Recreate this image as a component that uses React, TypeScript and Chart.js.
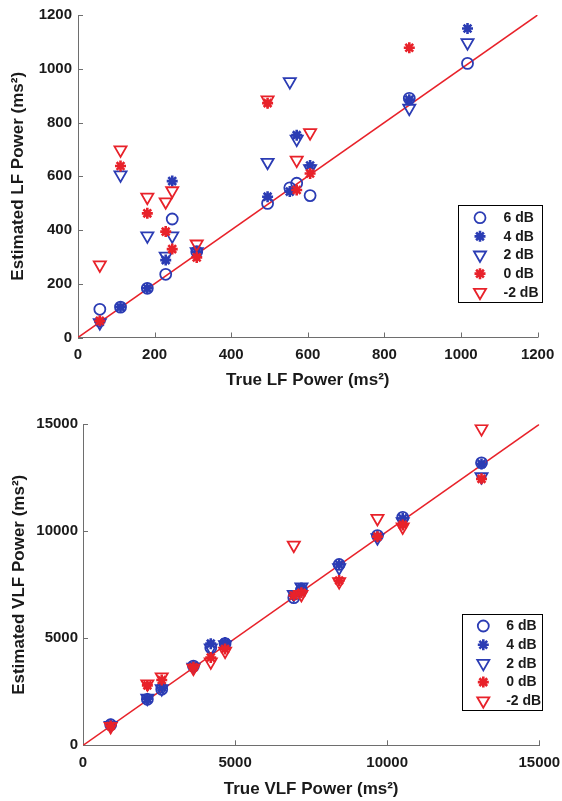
import React, { useEffect, useRef } from 'react';
import { Chart, registerables } from 'chart.js';

Chart.register(...registerables);

const FONT = "'Liberation Sans', Arial, Helvetica, sans-serif";
const BLUE = '#2b3cb4';
const RED = '#e8222a';
const AXIS = '#6e6e6e';
const TEXT = '#1a1a1a';

const seriesLabels = ['6 dB', '4 dB', '2 dB', '0 dB', '-2 dB'];

// ---- LF panel data (ms^2) ----
const lfTrue = [57, 111, 181, 229, 246, 310, 495, 553, 571, 606, 865, 1017];
const lf6dB = [105, 113, 183, 235, 441, 319, 499, 557, 574, 528, 890, 1020];
const lf4dB = [58, 113, 183, 288, 582, 319, 524, 543, 753, 640, 885, 1150];
const lf2dB = [55, 605, 378, 303, 378, 319, 652, 952, 738, 628, 853, 1097];
const lf0dB = [62, 638, 462, 394, 329, 298, 872, null, 549, 610, 1078, null];
const lfm2dB = [270, 698, 522, 505, 546, 348, 884, null, 660, 762, null, null];
const lfRange = [0, 1200];
const lfStep = 200;

// ---- VLF panel data (ms^2) ----
const vlfTrue = [910, 2116, 2588, 3630, 4200, 4670, 6930, 7180, 8420, 9680, 10510, 13100];
const vlf6dB = [960, 2150, 2620, 3700, 4560, 4750, 6900, 7250, 8450, 9800, 10650, 13200];
const vlf4dB = [980, 2180, 2700, 3720, 4750, 4800, 7000, 7350, 8450, 9750, 10600, 13150];
const vlf2dB = [930, 2200, 2650, 3650, 4550, 4700, 7050, 7400, 8300, 9700, 10450, 12550];
const vlf0dB = [900, 2800, 3050, 3650, 4100, 4500, 7000, 7130, 7700, 9750, 10300, 12450];
const vlfm2dB = [880, 2870, 3200, 3600, 3900, 4400, 9350, 7050, 7650, 10600, 10200, 14800];
const vlfRange = [0, 15000];
const vlfStep = 5000;

type MarkerStyle = { color: string; shape: 'circle' | 'star' | 'triangle'; radius: number; rotation: number; width: number };

const markerStyles: MarkerStyle[] = [
  { color: BLUE, shape: 'circle', radius: 5.5, rotation: 0, width: 1.8 },
  { color: BLUE, shape: 'star', radius: 5.5, rotation: 0, width: 2.6 },
  { color: BLUE, shape: 'triangle', radius: 7, rotation: 180, width: 1.8 },
  { color: RED, shape: 'star', radius: 5.5, rotation: 0, width: 2.6 },
  { color: RED, shape: 'triangle', radius: 7, rotation: 180, width: 1.8 },
];

function drawMarker(ctx: CanvasRenderingContext2D, s: MarkerStyle, x: number, y: number) {
  ctx.save();
  ctx.strokeStyle = s.color;
  ctx.lineWidth = s.width;
  ctx.beginPath();
  if (s.shape === 'circle') {
    ctx.arc(x, y, s.radius, 0, Math.PI * 2);
  } else if (s.shape === 'star') {
    const r = s.radius;
    const d = r * Math.SQRT1_2;
    ctx.moveTo(x - r, y); ctx.lineTo(x + r, y);
    ctx.moveTo(x, y - r); ctx.lineTo(x, y + r);
    ctx.moveTo(x - d, y - d); ctx.lineTo(x + d, y + d);
    ctx.moveTo(x - d, y + d); ctx.lineTo(x + d, y - d);
  } else {
    const r = s.radius;
    let a = Math.PI; // pointing down
    ctx.moveTo(x + Math.sin(a) * r, y - Math.cos(a) * r);
    a += (2 * Math.PI) / 3;
    ctx.lineTo(x + Math.sin(a) * r, y - Math.cos(a) * r);
    a += (2 * Math.PI) / 3;
    ctx.lineTo(x + Math.sin(a) * r, y - Math.cos(a) * r);
    ctx.closePath();
  }
  ctx.stroke();
  ctx.restore();
}

const inwardTicks = {
  id: 'inwardTicks',
  beforeDatasetsDraw(chart: any) {
    const { ctx } = chart;
    const xs = chart.scales.x;
    const ys = chart.scales.y;
    ctx.save();
    ctx.strokeStyle = AXIS;
    ctx.lineWidth = 1;
    ctx.beginPath();
    xs.ticks.forEach((t: any) => {
      const px = Math.round(xs.getPixelForValue(t.value)) + 0.5;
      ctx.moveTo(px, xs.top);
      ctx.lineTo(px, xs.top - 5);
    });
    ys.ticks.forEach((t: any) => {
      const py = Math.round(ys.getPixelForValue(t.value)) + 0.5;
      ctx.moveTo(ys.right, py);
      ctx.lineTo(ys.right + 5, py);
    });
    ctx.stroke();
    ctx.restore();
  },
};

const boxLegend = {
  id: 'boxLegend',
  afterDatasetsDraw(chart: any, _args: any, opts: any) {
    const { ctx, chartArea } = chart;
    const x1 = chartArea.right + opts.rightOut;
    const x0 = x1 - opts.w;
    const y1 = chartArea.bottom - opts.bottomGap;
    const y0 = y1 - opts.h;
    ctx.save();
    ctx.fillStyle = '#ffffff';
    ctx.fillRect(x0, y0, opts.w, opts.h);
    ctx.strokeStyle = '#000000';
    ctx.lineWidth = 1;
    ctx.strokeRect(Math.round(x0) + 0.5, Math.round(y0) + 0.5, Math.round(opts.w) - 1, Math.round(opts.h) - 1);
    ctx.font = `bold 14px ${FONT}`;
    ctx.fillStyle = TEXT;
    ctx.textBaseline = 'middle';
    ctx.textAlign = 'left';
    seriesLabels.forEach((lab, i) => {
      const cy = y0 + opts.firstRow + i * opts.rowH;
      drawMarker(ctx, markerStyles[i], x0 + opts.markerX, cy);
      ctx.fillText(lab, x0 + opts.textX, cy + 0.5);
    });
    ctx.restore();
  },
};

type PanelCfg = {
  trueVals: number[];
  series: (number | null)[][];
  range: number[];
  step: number;
  xTitle: string;
  yTitle: string;
  width: number;
  height: number;
  padTop: number;
  padRight: number;
  yAxisWidth: number;
  xAxisHeight: number;
  xTickPad: number;
  yTickPad: number;
  xTitlePad: number;
  yTitlePad: number;
  legend: any;
};

function Panel({ cfg }: { cfg: PanelCfg }) {
  const ref = useRef<HTMLCanvasElement | null>(null);
  useEffect(() => {
    if (!ref.current) return;
    const datasets: any[] = cfg.series.map((vals, i) => {
      const s = markerStyles[i];
      return {
        type: 'scatter',
        label: seriesLabels[i],
        data: cfg.trueVals.map((x, j) => ({ x, y: vals[j] })),
        pointStyle: s.shape,
        pointRadius: s.radius,
        pointRotation: s.rotation,
        pointBorderWidth: s.width,
        pointBorderColor: s.color,
        pointBackgroundColor: 'rgba(0,0,0,0)',
        borderColor: s.color,
        backgroundColor: 'rgba(0,0,0,0)',
        showLine: false,
        order: 5 - i,
      };
    });
    datasets.push({
      type: 'line',
      label: 'identity',
      data: [
        { x: cfg.range[0], y: cfg.range[0] },
        { x: cfg.range[1], y: cfg.range[1] },
      ],
      borderColor: RED,
      borderWidth: 1.5,
      pointRadius: 0,
      fill: false,
      order: 10,
    });

    const tickFont = { size: 15, weight: 'bold' as const, family: FONT };
    const titleFont = { size: 17, weight: 'bold' as const, family: FONT };

    const chart = new Chart(ref.current, {
      type: 'scatter',
      data: { datasets },
      options: {
        animation: false,
        responsive: false,
        devicePixelRatio: 1,
        layout: { padding: { top: cfg.padTop, right: cfg.padRight, left: 0, bottom: 0 } },
        plugins: {
          legend: { display: false },
          tooltip: { enabled: false },
          boxLegend: cfg.legend,
        } as any,
        scales: {
          x: {
            type: 'linear',
            min: cfg.range[0],
            max: cfg.range[1],
            ticks: {
              stepSize: cfg.step,
              color: TEXT,
              font: tickFont,
              padding: cfg.xTickPad,
              autoSkip: false,
              maxRotation: 0,
              callback: (v: any) => String(v),
            },
            grid: { display: false, drawTicks: false },
            border: { display: true, color: AXIS, width: 1 },
            title: {
              display: true,
              text: cfg.xTitle,
              color: TEXT,
              font: titleFont,
              padding: { top: 0, bottom: cfg.xTitlePad },
            },
            afterFit: (scale: any) => {
              scale.height = cfg.xAxisHeight;
              scale.paddingLeft = 0;
              scale.paddingRight = 0;
            },
          },
          y: {
            type: 'linear',
            min: cfg.range[0],
            max: cfg.range[1],
            ticks: {
              stepSize: cfg.step,
              color: TEXT,
              font: tickFont,
              padding: cfg.yTickPad,
              autoSkip: false,
              callback: (v: any) => String(v),
            },
            grid: { display: false, drawTicks: false },
            border: { display: true, color: AXIS, width: 1 },
            title: {
              display: true,
              text: cfg.yTitle,
              color: TEXT,
              font: titleFont,
              padding: { top: cfg.yTitlePad, bottom: 0 },
            },
            afterFit: (scale: any) => {
              scale.width = cfg.yAxisWidth;
              scale.paddingTop = 0;
              scale.paddingBottom = 0;
            },
          },
        },
      } as any,
      plugins: [inwardTicks, boxLegend],
    });
    return () => chart.destroy();
  }, [cfg]);
  return (
    <canvas
      ref={ref}
      width={cfg.width}
      height={cfg.height}
      style={{ display: 'block', width: cfg.width, height: cfg.height }}
    />
  );
}

const lfCfg: PanelCfg = {
  trueVals: lfTrue,
  series: [lf6dB, lf4dB, lf2dB, lf0dB, lfm2dB],
  range: lfRange,
  step: lfStep,
  xTitle: 'True LF Power (ms²)',
  yTitle: 'Estimated LF Power (ms²)',
  width: 562,
  height: 400,
  padTop: 15,
  padRight: 24.4,
  yAxisWidth: 78,
  xAxisHeight: 62.5,
  xTickPad: 8,
  yTickPad: 6,
  xTitlePad: 9.8,
  yTitlePad: 7.8,
  legend: { w: 85, h: 98, rightOut: 5.4, bottomGap: 34.5, markerX: 22, textX: 45.5, firstRow: 12.7, rowH: 18.65 },
};

const vlfCfg: PanelCfg = {
  trueVals: vlfTrue,
  series: [vlf6dB, vlf4dB, vlf2dB, vlf0dB, vlfm2dB],
  range: vlfRange,
  step: vlfStep,
  xTitle: 'True VLF Power (ms²)',
  yTitle: 'Estimated VLF Power (ms²)',
  width: 562,
  height: 401,
  padTop: 24.3,
  padRight: 22.7,
  yAxisWidth: 83,
  xAxisHeight: 55.7,
  xTickPad: 9,
  yTickPad: 5,
  xTitlePad: 1.8,
  yTitlePad: 8.8,
  legend: { w: 81, h: 97, rightOut: 3.4, bottomGap: 34.3, markerX: 21.6, textX: 44.5, firstRow: 12, rowH: 18.7 },
};

export default function App() {
  return (
    <div style={{ position: 'absolute', left: 0, top: 0, width: 562, height: 801, background: '#ffffff' }}>
      <div style={{ position: 'absolute', left: 0, top: 0 }}>
        <Panel cfg={lfCfg} />
      </div>
      <div style={{ position: 'absolute', left: 0, top: 400 }}>
        <Panel cfg={vlfCfg} />
      </div>
    </div>
  );
}
